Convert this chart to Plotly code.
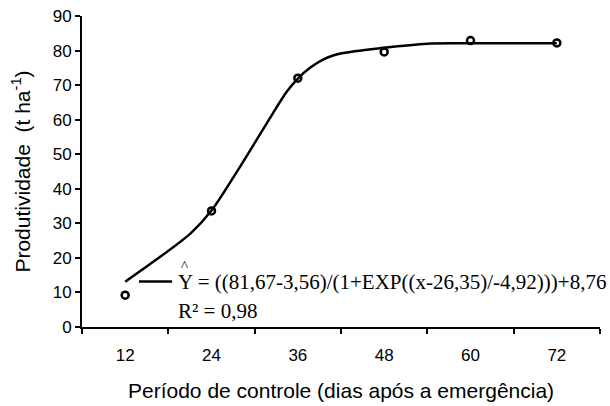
import plotly.graph_objects as go

# Observed data
obs_x = [12, 24, 36, 48, 60, 72]
obs_y = [9.2, 33.6, 72.0, 79.6, 82.9, 82.2]

# Fitted curve
curve_x = [12, 16, 21.1, 24, 28, 31.7, 34.5, 36, 37.7, 39.5, 42.1, 47.9, 54, 60, 66, 72]
curve_y = [13.1, 19.0, 27.1, 33.7, 46.5, 59.0, 68.2, 71.9, 75.0, 77.4, 79.2, 80.8, 82.0, 82.1, 82.1, 82.1]

x_ticks = [12, 24, 36, 48, 60, 72]
x_ticktext = ["12", "24", "36", "48", "60", "72"]
y_ticks = [0, 10, 20, 30, 40, 50, 60, 70, 80, 90]

x_title = "Período de controle (dias após a emergência)"
y_title = "Produtividade&nbsp;&nbsp;(t ha<sup>-1</sup>)"
equation = "Y = ((81,67-3,56)/(1+EXP((x-26,35)/-4,92)))+8,76"
r2_text = "R² = 0,98"

fig = go.Figure()
fig.add_trace(go.Scatter(x=curve_x, y=curve_y, mode="lines",
                         line=dict(color="black", width=2.5, shape="spline", smoothing=0.8),
                         showlegend=False, hoverinfo="skip"))
fig.add_trace(go.Scatter(x=obs_x, y=obs_y, mode="markers",
                         marker=dict(symbol="circle-open", size=7, color="black",
                                     line=dict(color="black", width=2.5)),
                         showlegend=False))

tick_font = dict(family="Liberation Sans, Arial", size=17, color="black")
title_font = dict(family="Liberation Sans, Arial", size=21, color="black")

fig.update_layout(
    width=610, height=406,
    margin=dict(l=82, r=10, t=16, b=79),
    paper_bgcolor="white", plot_bgcolor="white",
    font=tick_font,
    xaxis=dict(range=[6, 78], tickvals=x_ticks, ticktext=x_ticktext, ticks="",
               tickfont=tick_font, automargin=False,
               showline=True, linecolor="black", linewidth=2, showgrid=False, zeroline=False,
               minor=dict(ticks="outside", tick0=6, dtick=12, ticklen=5, tickcolor="black", tickwidth=2, showgrid=False),
               ticklabelstandoff=12),
    yaxis=dict(range=[0, 90], tickvals=y_ticks, ticks="outside", ticklen=5, tickwidth=2, tickcolor="black",
               tickfont=tick_font, automargin=False,
               showline=True, linecolor="black", linewidth=2, showgrid=False, zeroline=False,
               title=dict(text=y_title, font=title_font, standoff=16)),
)

fig.add_annotation(xref="paper", yref="paper", x=0.5, y=-0.204, text=x_title,
                   showarrow=False, xanchor="center", yanchor="middle", font=title_font)

serif = dict(family="Liberation Serif, Times New Roman", size=21, color="black")
fig.add_annotation(xref="paper", yref="paper", x=0.181, y=0.144, text=equation,
                   showarrow=False, xanchor="left", yanchor="middle", font=serif)
fig.add_annotation(xref="paper", yref="paper", x=0.181, y=0.05, text=r2_text,
                   showarrow=False, xanchor="left", yanchor="middle", font=serif)
fig.add_annotation(xref="paper", yref="paper", x=0.197, y=0.195, text="^",
                   showarrow=False, xanchor="center", yanchor="middle",
                   font=dict(family="Liberation Serif", size=15, color="black"))
fig.add_shape(type="line", xref="paper", yref="paper", x0=0.110, x1=0.174, y0=0.146, y1=0.146,
              line=dict(color="black", width=2.5))

fig.write_html("out.html")
